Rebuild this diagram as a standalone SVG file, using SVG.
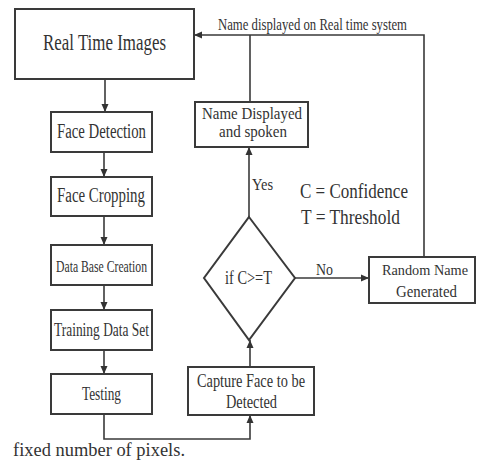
<svg xmlns="http://www.w3.org/2000/svg" width="477" height="465" viewBox="0 0 477 465" font-family="'Liberation Serif', 'Times New Roman', serif">
<style>
.box{fill:#fff;stroke:#3a3a3a;stroke-width:2}
.ln{fill:none;stroke:#3a3a3a;stroke-width:1.6}
text{fill:#333;font-family:'Liberation Serif','Times New Roman',serif}
</style>
<defs>
<marker id="ah" markerUnits="userSpaceOnUse" markerWidth="10" markerHeight="10" viewBox="0 0 10 10" refX="9" refY="5" orient="auto">
<path d="M1,1.5 L9,5 L1,8.5 Z" fill="#333"/>
</marker>
</defs>
<rect width="477" height="465" fill="#fff"/>
<g id="connectors">
<path class="ln" d="M105,79 V112" marker-end="url(#ah)"/>
<path class="ln" d="M104,152 V177" marker-end="url(#ah)"/>
<path class="ln" d="M104,216 V245" marker-end="url(#ah)"/>
<path class="ln" d="M104,285 V310" marker-end="url(#ah)"/>
<path class="ln" d="M104,350 V374" marker-end="url(#ah)"/>
<path class="ln" d="M104,414 V439 H250 V415" marker-end="url(#ah)"/>
<path class="ln" d="M250,367 V340" marker-end="url(#ah)"/>
<path class="ln" d="M249,217 V147" marker-end="url(#ah)"/>
<path class="ln" d="M295,278 H369" marker-end="url(#ah)"/>
<path class="ln" d="M424,257 V35 H194" marker-end="url(#ah)"/>
<path class="ln" d="M250,102 V35"/>
<text x="218" y="30" font-size="17" textLength="189" lengthAdjust="spacingAndGlyphs">Name displayed on Real time system</text>
<text x="252" y="190" font-size="16" textLength="21" lengthAdjust="spacingAndGlyphs">Yes</text>
<text x="316" y="275" font-size="16" textLength="17" lengthAdjust="spacingAndGlyphs">No</text>
</g>
<g id="real-time-images">
<rect class="box" x="15" y="9" width="179" height="70"/>
<text x="43" y="50" font-size="23" textLength="123" lengthAdjust="spacingAndGlyphs">Real Time Images</text>
</g>
<g id="face-detection">
<rect class="box" x="51" y="112" width="101" height="40"/>
<text x="57" y="138" font-size="20" textLength="89" lengthAdjust="spacingAndGlyphs">Face Detection</text>
</g>
<g id="face-cropping">
<rect class="box" x="51" y="177" width="101" height="39"/>
<text x="57" y="202" font-size="20" textLength="88" lengthAdjust="spacingAndGlyphs">Face Cropping</text>
</g>
<g id="data-base-creation">
<rect class="box" x="51" y="245" width="101" height="40"/>
<text x="56" y="272" font-size="17" textLength="91" lengthAdjust="spacingAndGlyphs">Data Base Creation</text>
</g>
<g id="training-data-set">
<rect class="box" x="51" y="310" width="101" height="40"/>
<text x="54" y="336" font-size="19" textLength="95" lengthAdjust="spacingAndGlyphs">Training Data Set</text>
</g>
<g id="testing">
<rect class="box" x="51" y="374" width="101" height="40"/>
<text x="82" y="400" font-size="19" textLength="39" lengthAdjust="spacingAndGlyphs">Testing</text>
</g>
<g id="name-displayed">
<rect class="box" x="195" y="102" width="113" height="45"/>
<text x="202" y="119" font-size="17" textLength="100" lengthAdjust="spacingAndGlyphs">Name Displayed</text>
<text x="219" y="137" font-size="17" textLength="68" lengthAdjust="spacingAndGlyphs">and spoken</text>
</g>
<g id="decision">
<polygon class="box" points="249,217 295,278 249,340 204,278"/>
<text x="225" y="284" font-size="18" textLength="47" lengthAdjust="spacingAndGlyphs">if C&gt;=T</text>
</g>
<g id="random-name">
<rect class="box" x="369" y="257" width="106" height="46"/>
<text x="382" y="275" font-size="15.5" textLength="86" lengthAdjust="spacingAndGlyphs">Random Name</text>
<text x="396" y="297" font-size="17" textLength="61" lengthAdjust="spacingAndGlyphs">Generated</text>
</g>
<g id="capture-face">
<rect class="box" x="188" y="367" width="126" height="48"/>
<text x="197" y="387" font-size="18" textLength="108" lengthAdjust="spacingAndGlyphs">Capture Face to be</text>
<text x="226" y="408" font-size="18" textLength="51" lengthAdjust="spacingAndGlyphs">Detected</text>
</g>
<g id="legend">
<text x="300" y="198" font-size="22" textLength="108" lengthAdjust="spacingAndGlyphs">C = Confidence</text>
<text x="301" y="224" font-size="22" textLength="99" lengthAdjust="spacingAndGlyphs">T = Threshold</text>
</g>
<text x="13" y="456" font-size="18.5" textLength="172" lengthAdjust="spacingAndGlyphs">fixed number of pixels.</text>
</svg>
